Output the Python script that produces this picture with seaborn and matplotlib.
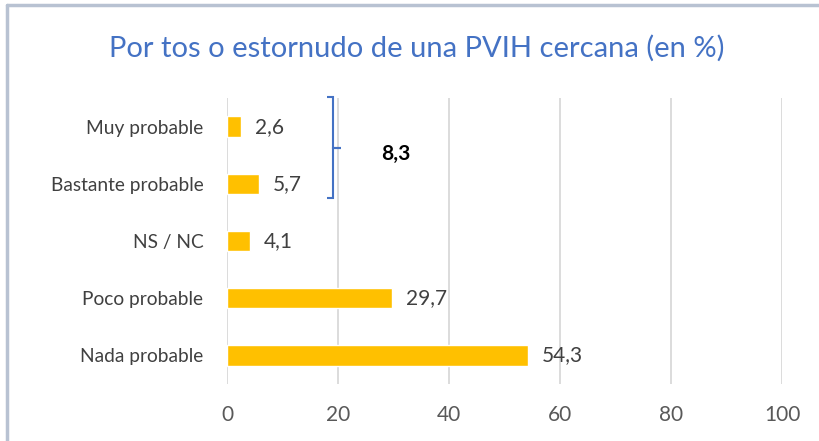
import matplotlib
matplotlib.use("Agg")
import matplotlib.pyplot as plt
import seaborn as sns
import pandas as pd
from matplotlib.lines import Line2D
from matplotlib.path import Path
from matplotlib.patches import PathPatch

categories = ["Muy probable", "Bastante probable", "NS / NC", "Poco probable", "Nada probable"]
values = [2.6, 5.7, 4.1, 29.7, 54.3]
labels = ["2,6", "5,7", "4,1", "29,7", "54,3"]
xticks = [0, 20, 40, 60, 80, 100]
bracket_label = "8,3"
title = "Por tos o estornudo de una PVIH cercana (en %)"

df = pd.DataFrame({"cat": categories, "val": values})

sns.set_style("white")
plt.rcParams["font.family"] = ["Lato", "DejaVu Sans"]

fig = plt.figure(figsize=(8.19, 4.41), dpi=100)
ax = fig.add_axes([227/819, 1-384/441, (782-227)/819, (384-98)/441])

sns.barplot(data=df, x="val", y="cat", orient="h", color="#FFC000",
            width=0.36, ax=ax, saturation=1)

ax.set_xlim(0, 100)
ax.set_ylim(4.5, -0.5)
ax.set_xticks(xticks)
ax.set_xticklabels([str(t) for t in xticks], fontsize=15, color="#595959")
ax.tick_params(axis="x", length=0, pad=15)
ax.tick_params(axis="y", length=0, pad=17)
for t in ax.get_yticklabels():
    t.set_fontsize(13.8)
    t.set_color("#404040")
ax.set_xlabel("")
ax.set_ylabel("")
ax.grid(axis="x", color="#D9D9D9", linewidth=1.3)
ax.set_axisbelow(True)
for s in ax.spines.values():
    s.set_visible(False)

for i, (v, lab) in enumerate(zip(values, labels)):
    ax.text(v + 2.5, i, lab, va="center", ha="left", fontsize=15, color="#404040")

# bracket
bx = 19.1
y_top, y_bot, y_mid = -0.52, 1.24, 0.38
verts = [(bx - 1.0, y_top), (bx, y_top), (bx, y_mid), (bx + 1.5, y_mid),
         (bx, y_mid), (bx, y_bot), (bx - 1.0, y_bot)]
codes = [Path.MOVETO] + [Path.LINETO] * 6
ax.add_patch(PathPatch(Path(verts, codes), fill=False, edgecolor="#4472C4",
                       linewidth=1.5, clip_on=False))
ax.text(30.5, 0.48, bracket_label, ha="center", va="center", fontsize=15,
        fontweight="bold", color="black")

fig.text(417/819, 1-48/441, title, ha="center", va="center", fontsize=21,
         color="#4472C4")

fig.add_artist(Line2D([7/819, 7/819], [0, 1-5/441], transform=fig.transFigure,
                      color="#B8C2D2", linewidth=2.5))
fig.add_artist(Line2D([7/819, 1], [1-5/441, 1-5/441], transform=fig.transFigure,
                      color="#B8C2D2", linewidth=2.5))

fig.savefig("out.png", dpi=100)
